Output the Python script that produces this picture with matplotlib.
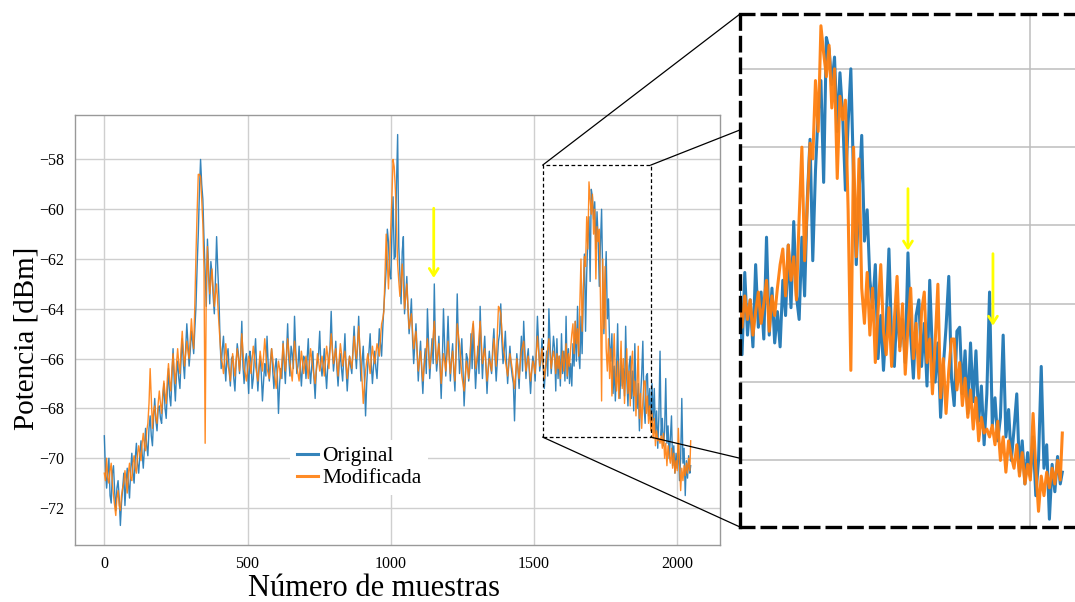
import numpy as np
import matplotlib.pyplot as plt
from matplotlib.patches import Rectangle, ConnectionPatch

plt.rcParams['font.family'] = ['Liberation Serif', 'DejaVu Serif']
plt.rcParams['axes.unicode_minus'] = True

# sample grid: every 8 samples up to 1568 (plus the in-between ones),
# every 4 after that (detail zone)
muestras_a = np.arange(0, 1569, 8)
muestras_c = np.arange(4, 1565, 8)
muestras_b = np.append(np.arange(1572, 2045, 4), 2047)

original_a = [
    -69.1, -71.2, -70.0, -71.8, -70.3, -72.1, -70.9, -72.7,
    -71.2, -71.9, -70.4, -71.6, -69.8, -71.0, -69.4, -70.6,
    -69.3, -70.4, -68.8, -69.9, -68.3, -69.5, -67.6, -68.9,
    -67.9, -68.6, -67.0, -68.4, -66.4, -67.9, -65.6, -67.7,
    -66.1, -67.2, -65.2, -66.8, -64.6, -66.3, -64.9, -65.8,
    -63.9, -61.0, -58.0, -59.6, -62.5, -61.2, -63.8, -62.6,
    -64.2, -61.1, -63.5, -66.4, -65.1, -66.9, -65.6, -67.1,
    -65.9, -67.3, -65.4, -66.6, -64.5, -67.0, -65.8, -67.4,
    -66.0, -66.8, -65.2, -67.3, -65.9, -67.7, -66.2, -65.1,
    -66.9, -65.6, -67.2, -66.0, -68.2, -66.4, -65.3, -67.0,
    -64.6, -66.7, -65.8, -64.3, -66.6, -65.5, -67.1, -65.9,
    -66.8, -65.2, -67.0, -65.7, -67.6, -66.1, -64.9, -66.7,
    -65.6, -67.2, -66.0, -64.1, -66.5, -65.3, -67.1, -65.8,
    -66.9, -65.0, -67.3, -65.9, -66.6, -64.7, -66.4, -64.3,
    -66.9, -65.5, -68.3, -66.2, -65.0, -67.0, -65.7, -66.8,
    -64.8, -65.9, -63.9, -62.4, -61.3, -62.8, -59.5, -61.9,
    -57.0, -62.6, -61.7, -64.2, -62.7, -65.0, -63.6, -66.2,
    -64.6, -66.9, -65.3, -67.4, -65.6, -64.0, -66.8, -65.2,
    -63.0, -66.5, -65.1, -67.6, -64.0, -66.7, -64.3, -66.9,
    -65.4, -67.3, -63.4, -66.6, -65.2, -67.9, -65.8, -66.9,
    -65.0, -64.6, -67.2, -65.5, -63.9, -66.8, -65.1, -67.4,
    -65.7, -66.6, -64.8, -66.9, -65.3, -63.8, -66.2, -64.9,
    -67.0, -65.5, -66.7, -68.5, -65.8, -67.2, -65.1, -64.5,
    -66.8, -65.6, -67.4, -65.9, -66.9, -64.3, -66.5, -65.2,
    -67.2, -65.7, -64.0, -66.6, -65.1,
]

original_c = [
    -70.5, -70.6, -71.5, -70.6, -71.3, -71.2, -71.6, -71.8,
    -70.6, -71.0, -71.0, -70.5, -70.6, -70.0, -70.2, -69.9,
    -69.8, -69.6, -69.5, -68.8, -69.1, -68.4, -68.5, -68.0,
    -68.4, -67.6, -68.0, -67.3, -67.5, -66.8, -66.9, -66.6,
    -66.8, -66.0, -66.2, -65.6, -65.4, -65.7, -65.3, -64.8,
    -62.3, -59.3, -59.0, -61.2, -63.9, -62.4, -62.1, -63.5,
    -62.8, -62.4, -65.2, -65.6, -66.2, -65.9, -66.5, -66.0,
    -66.8, -66.2, -65.8, -65.9, -66.3, -66.1, -66.5, -65.7,
    -67.2, -65.9, -66.4, -66.5, -66.6, -66.9, -66.7, -66.2,
    -66.1, -66.5, -66.4, -66.7, -67.0, -66.8, -66.2, -65.8,
    -66.0, -65.5, -66.4, -65.6, -66.3, -66.4, -66.3, -66.0,
    -66.0, -66.4, -66.3, -66.8, -66.5, -65.8, -66.3, -66.2,
    -66.5, -66.3, -65.5, -65.6, -66.0, -66.4, -66.2, -66.4,
    -65.9, -66.4, -66.5, -66.3, -65.6, -65.7, -65.5, -65.8,
    -66.1, -66.8, -67.0, -65.7, -66.2, -66.3, -66.4, -65.8,
    -65.4, -64.8, -63.2, -60.8, -62.6, -61.0, -62.0, -59.0,
    -61.5, -63.8, -61.1, -63.5, -64.0, -64.4, -65.2, -65.4,
    -65.8, -66.0, -66.5, -66.3, -66.6, -65.4, -66.0, -66.2,
    -65.6, -66.0, -66.4, -66.1, -65.5, -65.6, -65.8, -66.0,
    -66.5, -65.7, -65.3, -66.0, -66.4, -66.8, -66.0, -66.4,
    -66.4, -66.0, -66.3, -66.6, -65.6, -65.8, -66.3, -66.4,
    -66.3, -65.5, -66.0, -66.1, -65.0, -65.3, -65.7, -66.1,
    -66.2, -66.3, -67.0, -66.8, -66.4, -66.0, -66.5, -65.6,
    -66.0, -66.6, -66.5, -66.2, -65.7, -65.4, -66.1, -66.3,
    -66.4, -66.7, -65.3, -65.9,
]

modificada_a = [
    -70.6, -70.0, -71.0, -70.2, -71.5, -72.3, -71.3, -72.1,
    -71.2, -70.5, -71.4, -70.2, -70.9, -69.9, -70.6, -69.5,
    -70.1, -69.0, -69.7, -68.6, -66.4, -68.8, -67.9, -68.6,
    -67.3, -68.2, -66.9, -67.8, -66.2, -67.3, -65.8, -67.0,
    -65.6, -66.6, -64.9, -66.3, -65.3, -66.0, -64.4, -65.6,
    -61.8, -58.6, -58.7, -60.6, -69.4, -61.5, -63.4, -62.4,
    -63.9, -63.0, -64.6, -66.0, -66.6, -65.4, -66.3, -66.9,
    -65.8, -66.7, -65.6, -66.5, -65.0, -66.4, -66.9, -65.9,
    -66.6, -65.5, -66.3, -66.9, -65.7, -66.5, -65.2, -66.4,
    -66.8, -65.6, -66.5, -67.2, -66.1, -66.8, -65.4, -66.5,
    -65.2, -66.2, -66.9, -65.3, -66.3, -66.9, -65.7, -66.6,
    -65.9, -66.8, -65.6, -66.4, -67.0, -65.8, -66.5, -65.9,
    -66.7, -65.5, -66.4, -65.0, -66.2, -65.6, -66.7, -65.4,
    -66.3, -65.7, -66.8, -65.9, -66.4, -65.1, -66.0, -64.7,
    -66.1, -67.8, -66.5, -65.8, -66.6, -65.5, -66.2, -65.4,
    -65.9, -64.6, -64.1, -61.0, -63.2, -60.8, -58.0, -59.2,
    -62.2, -63.5, -62.2, -64.0, -63.0, -64.8, -64.2, -65.6,
    -64.9, -66.5, -65.7, -66.9, -66.0, -65.2, -66.4, -65.6,
    -64.5, -66.2, -65.4, -67.0, -65.8, -66.5, -65.3, -66.6,
    -65.7, -66.9, -64.6, -65.4, -66.7, -67.3, -66.1, -66.8,
    -65.3, -64.5, -66.4, -65.8, -64.5, -66.2, -65.6, -66.9,
    -66.0, -66.5, -65.2, -66.3, -63.9, -64.2, -65.5, -66.1,
    -66.7, -65.8, -66.4, -67.2, -66.0, -66.8, -65.7, -65.3,
    -66.5, -65.9, -66.9, -66.1, -66.6, -65.1, -66.3, -65.6,
    -66.8, -66.0, -65.2, -66.4, -65.7,
]

modificada_c = [
    -70.9, -70.8, -70.5, -71.0, -71.9, -71.6, -71.9, -71.5,
    -71.0, -70.9, -70.6, -70.8, -70.2, -70.4, -69.9, -69.8,
    -69.4, -69.5, -68.9, -67.8, -67.6, -68.1, -68.4, -67.8,
    -67.8, -67.4, -67.4, -66.8, -66.9, -66.4, -66.5, -66.2,
    -66.2, -65.6, -65.7, -65.8, -65.7, -65.2, -65.1, -63.8,
    -60.1, -58.6, -59.6, -62.4, -63.0, -62.7, -62.9, -63.2,
    -63.4, -63.8, -65.3, -66.2, -66.0, -66.0, -66.5, -66.3,
    -66.3, -66.1, -66.0, -65.8, -65.7, -66.6, -66.4, -66.2,
    -66.0, -65.9, -66.6, -66.3, -66.1, -65.9, -65.8, -66.6,
    -66.2, -66.0, -66.8, -66.6, -66.4, -66.1, -66.0, -65.9,
    -65.7, -66.5, -66.1, -65.8, -66.6, -66.3, -66.1, -66.2,
    -66.3, -66.2, -66.0, -66.7, -66.4, -66.1, -66.2, -66.3,
    -66.1, -65.9, -65.7, -65.6, -65.9, -66.2, -66.0, -65.8,
    -66.0, -66.2, -66.3, -66.1, -65.8, -65.6, -65.4, -65.5,
    -66.9, -67.1, -66.1, -66.2, -66.0, -65.9, -65.8, -65.6,
    -65.2, -64.4, -62.5, -62.1, -62.0, -59.5, -58.3, -60.6,
    -62.9, -62.8, -63.1, -63.5, -63.9, -64.5, -64.9, -65.2,
    -65.7, -66.1, -66.3, -66.4, -65.6, -65.8, -66.0, -65.1,
    -65.3, -65.8, -66.2, -66.4, -66.1, -65.9, -66.0, -66.1,
    -66.3, -65.8, -65.0, -66.0, -67.0, -66.7, -66.4, -66.0,
    -64.9, -65.5, -66.1, -65.1, -65.3, -65.9, -66.2, -66.5,
    -66.2, -65.8, -65.7, -65.0, -64.0, -64.9, -65.8, -66.4,
    -66.2, -66.1, -66.8, -66.6, -66.4, -66.2, -65.5, -65.9,
    -66.2, -66.4, -66.5, -66.3, -65.8, -65.7, -66.0, -66.2,
    -66.4, -65.6, -65.8, -66.0,
]

original_b = [
    -65.6, -67.3, -65.2, -66.8, -65.9, -67.1, -65.0, -66.6, -65.7, -66.9,
    -64.3, -66.8, -65.6, -67.0, -66.2, -67.1, -65.4, -66.3, -64.5, -66.1,
    -63.9, -65.8, -66.4, -64.3, -65.8, -63.3, -61.8, -64.9, -62.6, -61.1,
    -60.3, -62.9, -59.2, -59.5, -60.4, -59.7, -61.6, -60.1, -61.2, -63.1,
    -61.4, -60.0, -62.8, -65.0, -63.2, -61.7, -64.4, -63.6, -65.4, -66.1,
    -65.0, -67.4, -66.3, -67.7, -66.5, -64.6, -66.9, -67.6, -66.0, -67.1,
    -66.4, -67.5, -64.7, -66.8, -67.9, -66.3, -65.9, -67.6, -66.5, -68.1,
    -65.4, -67.3, -68.0, -67.0, -68.9, -67.6, -66.6, -65.3, -67.9, -68.6,
    -66.7, -66.6, -68.3, -67.2, -68.8, -67.0, -68.5, -67.2, -69.0, -68.1,
    -69.6, -68.3, -65.7, -69.1, -68.4, -69.5, -68.9, -66.8, -69.4, -68.7,
    -70.0, -69.2, -68.3, -70.3, -69.5, -70.6, -69.8, -70.4, -69.4, -70.9,
    -70.0, -67.6, -70.2, -69.6, -71.5, -70.1, -70.8, -69.9, -70.6, -70.3,
]

modificada_b = [
    -66.0, -66.6, -65.8, -66.4, -65.9, -66.8, -66.2, -65.7, -66.5, -66.0,
    -65.4, -66.7, -65.8, -66.3, -65.6, -65.0, -64.6, -65.8, -64.5, -65.4,
    -64.8, -65.9, -63.8, -62.0, -64.9, -63.5, -61.9, -62.3, -60.3, -61.6,
    -58.9, -59.6, -60.2, -59.4, -61.0, -60.0, -62.8, -60.7, -61.3, -60.8,
    -63.6, -67.7, -62.0, -64.8, -62.3, -65.6, -66.5, -65.2, -66.8, -65.6,
    -67.5, -66.2, -65.0, -66.7, -67.3, -66.1, -67.6, -66.4, -65.3, -67.2,
    -66.0, -67.8, -66.6, -65.6, -67.4, -66.5, -67.9, -66.2, -65.7, -67.5,
    -66.9, -68.3, -67.0, -65.5, -68.4, -67.4, -68.8, -67.7, -66.9, -66.9,
    -68.2, -67.5, -68.6, -67.9, -68.9, -68.2, -69.2, -68.4, -69.5, -68.9,
    -69.3, -69.2, -69.4, -69.1, -69.6, -69.0, -70.0, -69.4, -70.3, -69.5,
    -69.9, -70.2, -69.6, -70.4, -69.8, -70.6, -70.1, -70.5, -68.8, -70.2,
    -71.3, -70.4, -70.9, -70.3, -70.7, -70.2, -70.6, -70.0, -70.5, -69.3,
]

muestras = np.concatenate([muestras_a, muestras_c, muestras_b])
original = np.array(original_a + original_c + original_b)
modificada = np.array(modificada_a + modificada_c + modificada_b)
orden = np.argsort(muestras)
muestras, original, modificada = muestras[orden], original[orden], modificada[orden]

# zone marked on the main plot and limits of the enlarged view
zona_x = (1530, 1907)
zona_y = (-69.15, -58.23)
detalle_x = (1573, 2073)
detalle_y = (-71.7, -58.6)

# yellow arrows: (sample, start, tip)
flechas_principal = [(1150, -59.96, -62.76)]
flechas_detalle = [(1820, -63.06, -64.64), (1945, -64.72, -66.56)]

azul = '#1f77b4'
naranja = '#ff7f0e'
amarillo = '#ffff00'
estilo_flecha = '->,head_length=0.5,head_width=0.32'

fig = plt.figure(figsize=(10.75, 6.02), dpi=100)
ax = fig.add_axes([75 / 1075, 57 / 602, 645 / 1075, 430 / 602])
axd = fig.add_axes([740 / 1075, 75 / 602, 340 / 1075, 513 / 602])

# main plot
ax.plot(muestras, original, color=azul, lw=1.0, alpha=0.9, label='Original')
ax.plot(muestras, modificada, color=naranja, lw=1.0, alpha=0.9, label='Modificada')
ax.set_xticks([0, 500, 1000, 1500, 2000])
ax.set_yticks(np.arange(-72, -57, 2))
ax.grid(True, color='#cfcfcf', lw=1.0)
ax.set_axisbelow(True)
ax.tick_params(length=0, labelsize=11.5, pad=8)
for s in ax.spines.values():
    s.set_color('#999999')
    s.set_linewidth(1.0)

ax.set_xlabel('Número de muestras', fontsize=22)
ax.set_ylabel('Potencia [dBm]', fontsize=21)
ax.xaxis.set_label_coords(0.4636, -0.068)
ax.yaxis.set_label_coords(-0.055, 0.48)

leg = ax.legend(loc='center', bbox_to_anchor=(0.4405, 0.181), fontsize=15.5,
                frameon=True, facecolor='white', edgecolor='none', framealpha=1,
                fancybox=False, handlelength=1.0, handletextpad=0.2,
                labelspacing=0.1, borderpad=0.3)
for h in leg.legend_handles:
    h.set_linewidth(2.2)

ax.add_patch(Rectangle((zona_x[0], zona_y[0]), zona_x[1] - zona_x[0],
                       zona_y[1] - zona_y[0], fill=False, color='black',
                       lw=0.9, ls=(0, (3, 2)), zorder=5))

for x, y0, y1 in flechas_principal:
    ax.annotate('', xy=(x, y1), xytext=(x, y0),
                arrowprops=dict(arrowstyle=estilo_flecha, color=amarillo,
                                lw=2.0, shrinkA=0, shrinkB=0))

# enlarged view
axd.plot(muestras, original, color=azul, lw=2.2, alpha=0.95)
axd.plot(muestras, modificada, color=naranja, lw=2.2, alpha=0.95)
axd.set_xlim(*detalle_x)
axd.set_ylim(*detalle_y)
axd.set_xticks([2000])
axd.set_yticks(np.arange(-70, -59, 2))
axd.tick_params(length=0, labelleft=False, labelbottom=False)
axd.grid(True, color='#bdbdbd', lw=1.1)
axd.set_axisbelow(True)
for s in axd.spines.values():
    s.set_color('black')
    s.set_linewidth(2.4)
    s.set_linestyle((0, (4, 2.5)))

for x, y0, y1 in flechas_detalle:
    axd.annotate('', xy=(x, y1), xytext=(x, y0),
                 arrowprops=dict(arrowstyle=estilo_flecha, color=amarillo,
                                 lw=2.0, shrinkA=0, shrinkB=0))

# connector lines between the marked zone and the enlarged view
enlaces = [
    ((zona_x[0], zona_y[1]), (0, 1.0)),
    ((zona_x[1], zona_y[1]), (0, 0.774)),
    ((zona_x[0], zona_y[0]), (0, 0.0)),
    ((zona_x[1], zona_y[0]), (0, 0.134)),
]
for pa, pb in enlaces:
    con = ConnectionPatch(xyA=pa, coordsA=ax.transData, xyB=pb,
                          coordsB=axd.transAxes, color='black', lw=0.9)
    fig.add_artist(con)

fig.savefig('out.png', dpi=100)
